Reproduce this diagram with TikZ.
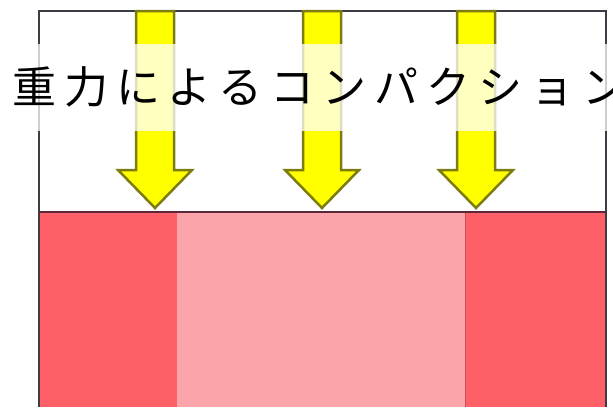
\documentclass[tikz,border=0pt]{standalone}
\usepackage{fontspec}
\usepackage{tikz}
\usepackage{xcolor}
\usetikzlibrary{positioning,calc}
\newfontfamily\jpfont[LetterSpace=18]{Noto Sans CJK JP}
\definecolor{framegray}{HTML}{3C3C46}
\definecolor{edgeplum}{HTML}{5A2838}
\definecolor{blockred}{HTML}{FF6068}
\definecolor{blockpink}{HTML}{FBA5AA}
\definecolor{arrowolive}{HTML}{7C7C10}
\definecolor{arrowyellow}{HTML}{FFFF00}
\tikzset{
  framestyle/.style={draw=framegray,line width=2pt},
  arrowbody/.style={draw=arrowolive,fill=arrowyellow,line width=2.5pt,line join=miter},
  bandstyle/.style={fill=white,fill opacity=0.75,text opacity=1,inner sep=0pt,
        minimum height=87pt,font=\jpfont\fontsize{44}{44}\selectfont}
}

\begin{document}
\begin{tikzpicture}[x=1pt,y=-1pt]
  \useasboundingbox (0,0) rectangle (613,407);
  \clip (0,0) rectangle (613,407);
  % lower layers
  \fill[blockred]  (39,212) rectangle (177,407);
  \fill[blockpink] (177,212) rectangle (465,407);
  \fill[blockred]  (465,212) rectangle (606,407);
  \draw[blockred!80!black,line width=1pt] (465,212) -- (465,407);
  % frame
  \draw[framestyle] (39,407) -- (39,11) -- (606,11) -- (606,407);
  \draw[draw=edgeplum,line width=2pt] (39,212) -- (606,212);
  % block arrows
  \foreach \cx in {155,322,476}{
    \draw[arrowbody] (\cx-19,11) -- (\cx-19,170) -- (\cx-37,170) -- (\cx,208)
      -- (\cx+37,170) -- (\cx+19,170) -- (\cx+19,11) -- cycle;
  }
  % caption band
  \node[bandstyle,anchor=west,minimum width=620pt,align=left,text width=620pt]
    (caption) at (12,87) {重力によるコンパクション};
\end{tikzpicture}
\end{document}
